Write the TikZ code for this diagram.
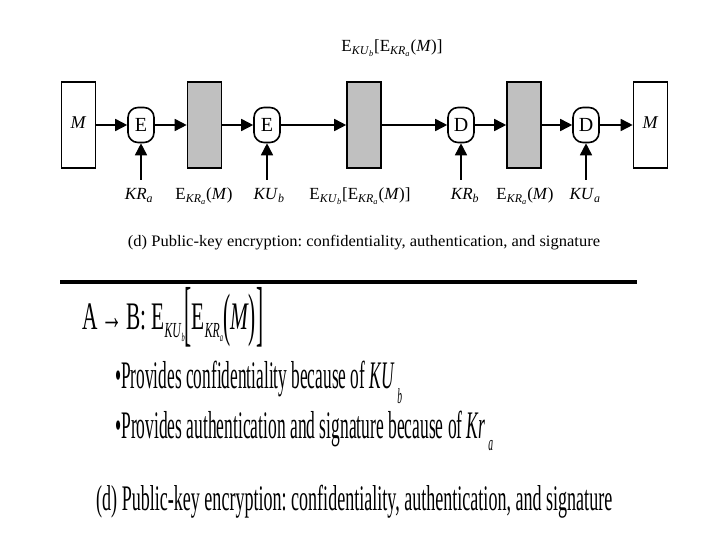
\documentclass[tikz,border=0pt]{standalone}
\usepackage{fontspec}
\setmainfont{Liberation Serif}
\usepackage{graphicx}
\usetikzlibrary{arrows.meta}
\definecolor{graybox}{RGB}{192,192,192}
\newcommand\ksub[1]{\textsubscript{#1}}
\newcommand\lowsub[2]{\raisebox{#1}{\scalebox{0.55}{#2}}}
\newcommand\bigbr[1]{\raisebox{-8pt}{\scalebox{1}[1.85]{#1}}}
\newcommand\midbr[1]{\raisebox{-5.5pt}{\scalebox{1}[1.5]{#1}}}
\frenchspacing
\begin{document}
\begin{tikzpicture}[x=1pt,y=-1pt,
  box/.style={draw,line width=1.6pt,minimum width=34pt,minimum height=86pt,inner sep=0pt,font=\fontsize{18}{18}\selectfont},
  whitebox/.style={box,fill=white},
  graybx/.style={box,fill=graybox},
  op/.style={draw,line width=1.6pt,rounded corners=10pt,minimum width=26pt,minimum height=35pt,inner sep=0pt,font=\fontsize{20}{20}\selectfont,fill=white},
  flow/.style={line width=1.6pt,-{Triangle[length=12pt,width=12pt]}},
  lbl/.style={inner sep=0pt,anchor=base,font=\fontsize{17}{17}\selectfont},
  bigtext/.style={inner sep=0pt,anchor=base west}
]
\useasboundingbox (0,0) rectangle (720,540);
% top diagram
\node[whitebox] (m1) at (78.5,125) {\raisebox{4pt}{\textit{M}}};
\node[op] (e1) at (141,125) {E};
\node[graybx] (g1) at (204.5,125) {};
\node[op] (e2) at (267,125) {E};
\node[graybx] (g2) at (364,125) {};
\node[op] (d1) at (461,125) {D};
\node[graybx] (g3) at (524,125) {};
\node[op] (d2) at (586,125) {D};
\node[whitebox] (m2) at (650.5,125) {\raisebox{4pt}{\textit{M}}};
\draw[flow] (m1) -- (e1);
\draw[flow] (e1) -- (g1);
\draw[flow] (g1) -- (e2);
\draw[flow] (e2) -- (g2);
\draw[flow] (g2) -- (d1);
\draw[flow] (d1) -- (g3);
\draw[flow] (g3) -- (d2);
\draw[flow] (d2) -- (m2);
\coordinate (k1) at (141,180);
\coordinate (k2) at (267,180);
\coordinate (k3) at (461,180);
\coordinate (k4) at (586,180);
\draw[flow] (k1) -- (e1);
\draw[flow] (k2) -- (e2);
\draw[flow] (k3) -- (d1);
\draw[flow] (k4) -- (d2);
\node[lbl] (kra) at (139,200) {\textit{KR}\ksub{\textit{a}}};
\node[lbl] (la) at (204,200) {E\ksub{\textit{KR}\ksub{\textit{a}}}(\textit{M})};
\node[lbl] (kub) at (269,200) {\textit{KU}\ksub{\textit{b}}};
\node[lbl] (lb) at (360,200) {E\ksub{\textit{KU}\ksub{\textit{b}}}[E\ksub{\textit{KR}\ksub{\textit{a}}}(\textit{M})]};
\node[lbl] (krb) at (465,200) {\textit{KR}\ksub{\textit{b}}};
\node[lbl] (lc) at (525,200) {E\ksub{\textit{KR}\ksub{\textit{a}}}(\textit{M})};
\node[lbl] (kua) at (585,200) {\textit{KU}\ksub{\textit{a}}};
\node[lbl] (ltop) at (392,52) {E\ksub{\textit{KU}\ksub{\textit{b}}}[E\ksub{\textit{KR}\ksub{\textit{a}}}(\textit{M})]};
\node[lbl] (cap1) at (364,247) {\resizebox{472pt}{\height}{\fontsize{16}{16}\selectfont (d) Public-key encryption: confidentiality, authentication, and signature}};
% separator
\coordinate (s1) at (60,282);
\coordinate (s2) at (637,282);
\draw[line width=4pt] (s1) -- (s2);
% lower text
\node[bigtext] (eq) at (82,329) {\resizebox{181pt}{\height}{\fontsize{39}{39}\selectfont A\,→\,B: E\lowsub{-8pt}{\textit{KU}\lowsub{-8pt}{\textit{b}}}\bigbr{[}E\lowsub{-8pt}{\textit{KR}\lowsub{-8pt}{\textit{a}}}\midbr{(}\textit{M}\midbr{)}\bigbr{]}}};
\node[bigtext] (b1) at (115,388) {\resizebox{287pt}{\height}{\fontsize{39}{39}\selectfont •Provides confidentiality because of \textit{KU}\,\lowsub{-15pt}{\textit{b}}}};
\node[bigtext] (b2) at (115,438) {\resizebox{378pt}{\height}{\fontsize{39}{39}\selectfont •Provides authentication and signature because of \textit{Kr}\,\lowsub{-12pt}{\textit{a}}}};
\node[bigtext] (cap2) at (96,510) {\resizebox{516pt}{\height}{\fontsize{36}{36}\selectfont (d) Public-key encryption: confidentiality, authentication, and signature}};
\end{tikzpicture}
\end{document}
